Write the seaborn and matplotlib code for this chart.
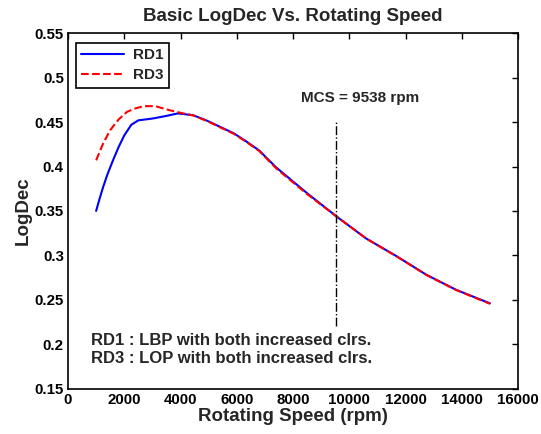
import numpy as np
import pandas as pd
import matplotlib
matplotlib.use("Agg")
import matplotlib.pyplot as plt
import seaborn as sns

# data
speed_rd1 = [1000, 1125, 1250, 1400, 1600, 1800, 2000, 2250, 2500, 3000, 3500, 3900, 4450, 4950,
             5400, 5900, 6350, 6800, 7400, 8500, 9538, 10600, 11700, 12750, 13800, 15000]
logdec_rd1 = [0.350, 0.364, 0.377, 0.391, 0.407, 0.422, 0.435, 0.447, 0.452, 0.454, 0.457, 0.4598,
              0.4578, 0.4515, 0.4448, 0.4373, 0.428, 0.418, 0.399, 0.370, 0.344, 0.319, 0.2987,
              0.278, 0.2612, 0.246]

speed_rd3 = [1000, 1250, 1500, 1800, 2100, 2400, 2700, 3100, 3600, 4000, 4450, 4950,
             5400, 5900, 6350, 6800, 7400, 8500, 9538, 10600, 11700, 12750, 13800, 15000]
logdec_rd3 = [0.407, 0.426, 0.441, 0.453, 0.4616, 0.4655, 0.468, 0.468, 0.4635, 0.4605, 0.4575,
              0.4512, 0.4443, 0.4368, 0.4275, 0.4175, 0.398, 0.369, 0.344, 0.319, 0.2985,
              0.2778, 0.261, 0.2455]

mcs_speed = 9538
mcs_span = [0.22, 0.45]

df1 = pd.DataFrame({"speed": speed_rd1, "logdec": logdec_rd1})
df3 = pd.DataFrame({"speed": speed_rd3, "logdec": logdec_rd3})

sns.set_style("white")
plt.rcParams["font.family"] = ["Liberation Sans", "DejaVu Sans"]
plt.rcParams["font.weight"] = "bold"

fig = plt.figure(figsize=(5.41, 4.34), dpi=100)
ax = fig.add_axes([0.1257, 0.1046, 0.8318, 0.8187])

sns.lineplot(data=df1, x="speed", y="logdec", ax=ax, color="#0000ff", lw=1.5, label="RD1")
sns.lineplot(data=df3, x="speed", y="logdec", ax=ax, color="#ff0000", lw=1.5,
             linestyle="--", label="RD3")

ax.plot([mcs_speed, mcs_speed], mcs_span, color="black", lw=1, linestyle="-.")
ax.text(10384, 0.4766, "MCS = 9538 rpm", ha="center", va="center",
        fontsize=11, fontweight="bold")
ax.text(818, 0.204, "RD1 : LBP with both increased clrs.", ha="left", va="center",
        fontsize=12, fontweight="bold")
ax.text(818, 0.184, "RD3 : LOP with both increased clrs.", ha="left", va="center",
        fontsize=12, fontweight="bold")

ax.set_xlim(0, 16000)
ax.set_ylim(0.15, 0.55)
ax.set_xticks(np.arange(0, 16001, 2000))
ax.set_yticks(np.arange(0.15, 0.551, 0.05))
ax.set_yticklabels(["0.15", "0.2", "0.25", "0.3", "0.35", "0.4", "0.45", "0.5", "0.55"])
ax.tick_params(direction="in", length=4, width=1, top=True, right=True,
               labelsize=10.8, pad=3, colors="black")
for lab in ax.get_xticklabels() + ax.get_yticklabels():
    lab.set_fontweight("bold")
for sp in ax.spines.values():
    sp.set_color("black")
    sp.set_linewidth(1.2)

ax.set_xlabel("Rotating Speed (rpm)", fontsize=13.5, fontweight="bold", labelpad=1)
ax.set_ylabel("LogDec", fontsize=13.5, fontweight="bold", labelpad=2)
ax.set_title("Basic LogDec Vs. Rotating Speed", fontsize=13.5, fontweight="bold", pad=9)

leg = ax.legend(loc="upper left", fontsize=11, handlelength=2.8, fancybox=False,
                framealpha=1, edgecolor="black", borderpad=0.35, labelspacing=0.4,
                handletextpad=0.6, bbox_to_anchor=(0.0, 0.995))
leg.get_frame().set_linewidth(1.2)
for t in leg.get_texts():
    t.set_fontweight("bold")

fig.savefig("out.png", dpi=100, facecolor="white")
